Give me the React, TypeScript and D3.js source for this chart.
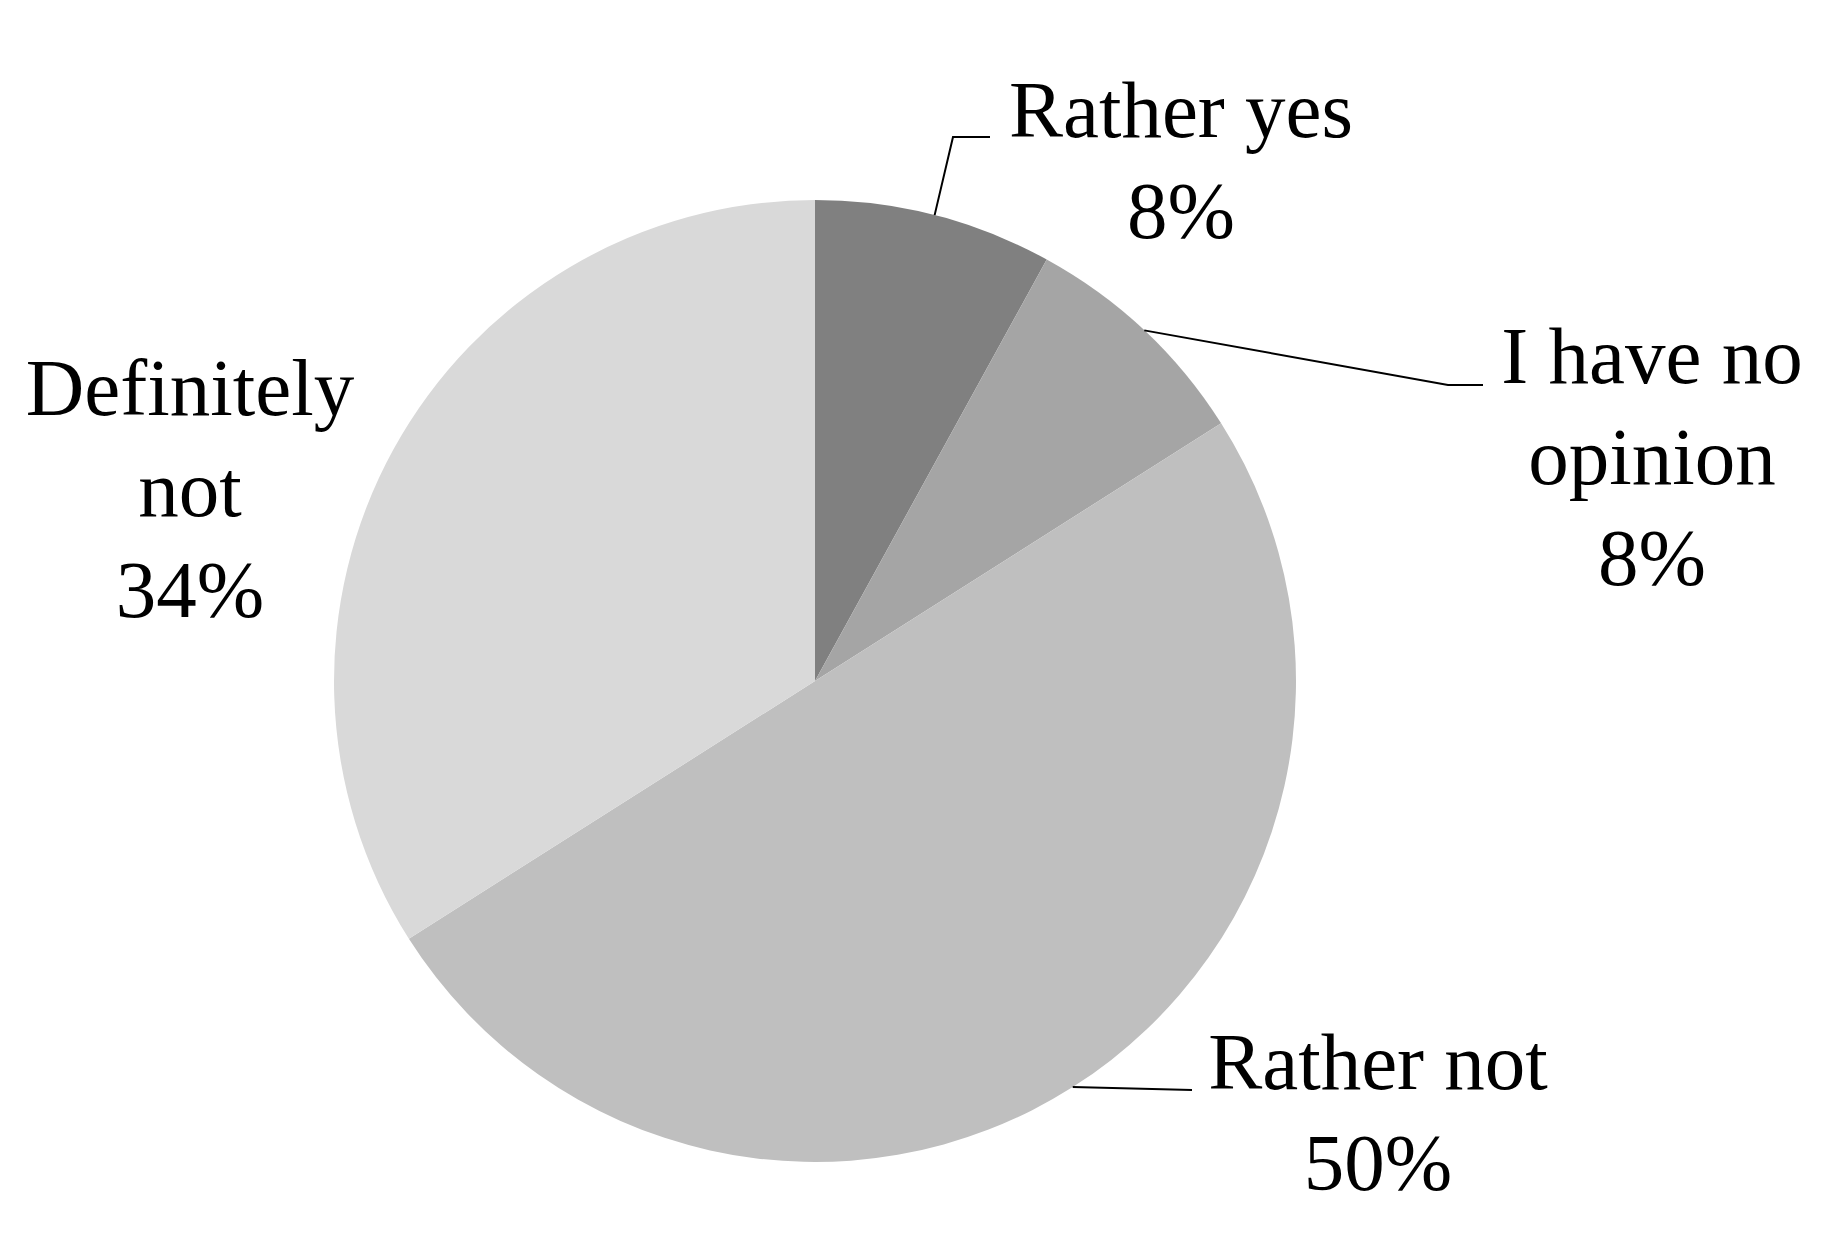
import React from "react";
import * as d3 from "d3";

// survey answers, clockwise from 12 o'clock
const categories = ["Rather yes", "I have no opinion", "Rather not", "Definitely not"];
const shares = [8, 8, 50, 34];
const sliceColors = ["#808080", "#a5a5a5", "#bfbfbf", "#d9d9d9"];
// how each label is broken over lines (percent added below)
const labelLines = [["Rather yes"], ["I have no", "opinion"], ["Rather not"], ["Definitely", "not"]];

const W = 1833;
const H = 1258;
const cx = 815;
const cy = 681;
const radius = 481;
const fontSize = 81;
const lineGap = 101;

// label block placement (center x, first baseline) and leader lines
const labelPos = [
  { x: 1181, y: 137, leader: [[953, 137], [990, 137]] },
  { x: 1652, y: 383, leader: [[1448, 385], [1483, 385]] },
  { x: 1378, y: 1089, leader: [[1192, 1090]] },
  { x: 190, y: 415, leader: null },
];

export default function App() {
  const data = categories.map((c, i) => ({ name: c, value: shares[i], i }));
  const pie = d3
    .pie<any>()
    .sort(null)
    .value((d) => d.value)
    .startAngle(0)
    .endAngle(2 * Math.PI);
  const arcs = pie(data);
  const arc = d3.arc<any>().innerRadius(0).outerRadius(radius);
  const total = d3.sum(shares);

  return (
    <svg
      width={W}
      height={H}
      style={{ position: "absolute", left: 0, top: 0, background: "#fff" }}
      fontFamily="'Liberation Serif', 'Times New Roman', serif"
    >
      <g transform={`translate(${cx},${cy})`}>
        {arcs.map((a, i) => (
          <path key={i} d={arc(a) as string} fill={sliceColors[i]} />
        ))}
      </g>
      {arcs.map((a, i) => {
        const p = labelPos[i];
        if (!p.leader) return null;
        const mid = (a.startAngle + a.endAngle) / 2;
        const sx = cx + radius * Math.sin(mid);
        const sy = cy - radius * Math.cos(mid);
        const pts = [[sx, sy], ...p.leader];
        return (
          <polyline
            key={"l" + i}
            points={pts.map((q) => q.join(",")).join(" ")}
            fill="none"
            stroke="#000"
            strokeWidth={2}
          />
        );
      })}
      {arcs.map((a, i) => {
        const p = labelPos[i];
        const lines = [...labelLines[i], `${Math.round((a.data.value / total) * 100)}%`];
        return (
          <text key={"t" + i} x={p.x} y={p.y} textAnchor="middle" fontSize={fontSize} fill="#000">
            {lines.map((ln, k) => (
              <tspan key={k} x={p.x} y={p.y + k * lineGap}>
                {ln}
              </tspan>
            ))}
          </text>
        );
      })}
    </svg>
  );
}
